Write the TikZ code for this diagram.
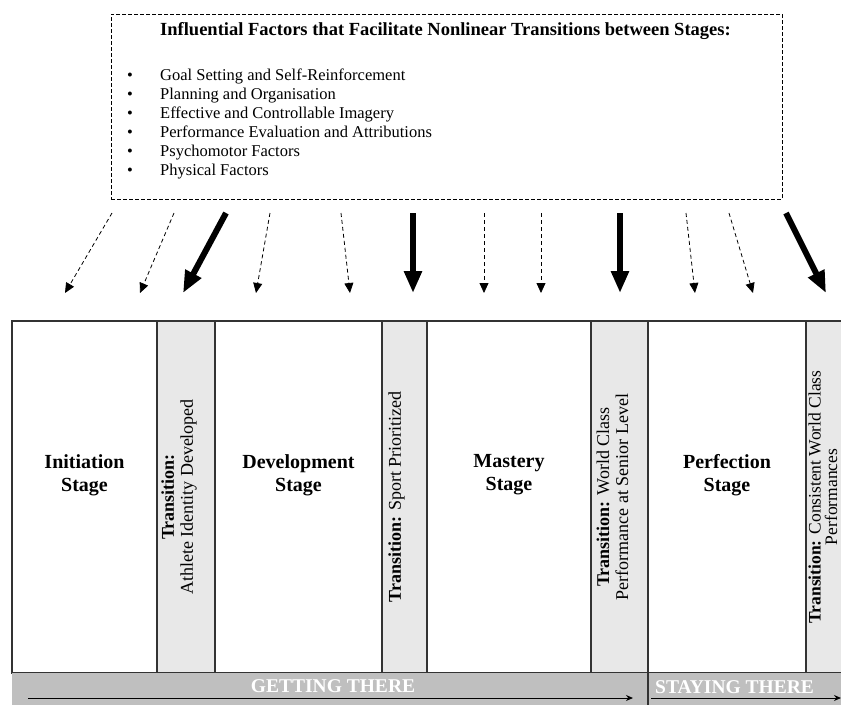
\documentclass[tikz,border=0pt]{standalone}
\usepackage{fontspec}
\setmainfont{Liberation Serif}
\usepackage{xcolor}
\usepackage{tikz}
\usetikzlibrary{arrows.meta,positioning}
\definecolor{shiftgray}{gray}{0.91}
\definecolor{bargray}{gray}{0.75}
\definecolor{edgegray}{gray}{0.2}
\newcommand{\factoritem}[1]{\makebox[33pt][l]{\textbullet}#1}
\tikzset{
  phasepicture/.style={x=1pt, y=-1pt, node distance=0pt},
  factorbox/.style={draw, dash pattern=on 4pt off 2pt, line width=0.9pt, minimum width=671pt, minimum height=185pt, inner sep=0pt, outer sep=0pt},
  factortitle/.style={font=\fontsize{18.5}{19}\selectfont\bfseries, anchor=west, inner sep=0pt},
  factorlist/.style={font=\fontsize{16.5}{19}\selectfont, align=left, anchor=north west, inner sep=0pt},
  phasecol/.style={draw=edgegray, line width=1.2pt, fill=white, minimum height=352pt, inner sep=0pt, outer sep=0pt},
  shiftcol/.style={phasecol, fill=shiftgray},
  phaselabel/.style={font=\fontsize{20}{23}\selectfont\bfseries, align=center, inner sep=0pt},
  shiftlabel/.style={font=\fontsize{18}{19}\selectfont, align=center, rotate=90, inner sep=0pt},
  trackbar/.style={fill=bargray, minimum height=32pt, inner sep=0pt, outer sep=0pt},
  tracklabel/.style={font=\fontsize{19.5}{20}\selectfont\bfseries, text=white, inner sep=0pt},
  trackarrow/.style={-{Stealth[length=7pt,width=6pt]}, line width=1pt},
  factorarrow/.style={-{Triangle[length=10pt,width=9pt]}, dash pattern=on 4pt off 3pt, line width=0.8pt},
  factorpush/.style={-{Triangle[length=22pt,width=17pt]}, line width=6pt}
}

\begin{document}
\begin{tikzpicture}[phasepicture]
\useasboundingbox (0,0) rectangle (841,705);
% factors box
\node[factorbox] (factors) at (446.5,106.5) {};
\node[factortitle] (title) at (160,31) {Influential Factors that Facilitate Nonlinear Transitions between Stages:};
\node[factorlist] (list) at (127,69) {\factoritem{Goal Setting and Self-Reinforcement}\\
\factoritem{Planning and Organisation}\\
\factoritem{Effective and Controllable Imagery}\\
\factoritem{Performance Evaluation and Attributions}\\
\factoritem{Psychomotor Factors}\\
\factoritem{Physical Factors}};
% stage columns
\node[phasecol, minimum width=145pt, anchor=north west] (init) at (12,321) {};
\node[shiftcol, minimum width=58pt, right=of init] (tr1) {};
\node[phasecol, minimum width=167pt, right=of tr1] (dev) {};
\node[shiftcol, minimum width=45pt, right=of dev] (tr2) {};
\node[phasecol, minimum width=164pt, right=of tr2] (mast) {};
\node[shiftcol, minimum width=57pt, right=of mast] (tr3) {};
\node[phasecol, minimum width=158pt, right=of tr3] (perf) {};
\node[shiftcol, minimum width=45pt, right=of perf] (tr4) {};
\node[phaselabel] (initlbl) at ([yshift=22pt]init.center) {Initiation\\Stage};
\node[phaselabel] (devlbl) at ([yshift=22pt]dev.center) {Development\\Stage};
\node[phaselabel] (mastlbl) at ([yshift=22pt]mast.center) {Mastery\\Stage};
\node[phaselabel] (perflbl) at ([yshift=22pt]perf.center) {Perfection\\Stage};
\node[shiftlabel] (tr1lbl) at ([xshift=-7pt]tr1.center) {\textbf{Transition:}\\Athlete Identity Developed};
\node[shiftlabel] (tr2lbl) at ([xshift=-8pt]tr2.center) {\textbf{Transition:} Sport Prioritized};
\node[shiftlabel] (tr3lbl) at ([xshift=-7pt]tr3.center) {\textbf{Transition:} World Class\\Performance at Senior Level};
\node[shiftlabel, font=\fontsize{17.5}{16.5}\selectfont] (tr4lbl) at ([xshift=-5.5pt]tr4.center) {\textbf{Transition:} Consistent World Class\\Performances};
% factor arrows
\foreach \n/\sx/\ex/\kind in {1/112/65/factorarrow, 2/174/140/factorarrow, 3/226/183/factorpush, 4/270/256/factorarrow, 5/341/350/factorarrow, 6/413/413/factorpush, 7/484/484/factorarrow, 8/541/541/factorarrow, 9/620/620/factorpush, 10/686/695/factorarrow, 11/729/753/factorarrow, 12/786/826/factorpush}{
  \coordinate (src\n) at (\sx,213);
  \coordinate (dst\n) at (\ex,293);
  \draw[\kind] (src\n) -- (dst\n);
}
% bottom track
\node[trackbar, minimum width=840pt, anchor=north west] (bar) at (12,673) {};
\draw[edgegray, line width=1.2pt] (perf.south west) -- (perf.south west |- bar.south);
\node[tracklabel] (getting) at (333,686) {GETTING THERE};
\node[tracklabel, anchor=west] (staying) at (655,687) {STAYING THERE};
\coordinate (get0) at (28,698);
\coordinate (get1) at (633,698);
\coordinate (stay0) at (651,698);
\coordinate (stay1) at (841,698);
\draw[trackarrow] (get0) -- (get1);
\draw[trackarrow] (stay0) -- (stay1);
\end{tikzpicture}
\end{document}
